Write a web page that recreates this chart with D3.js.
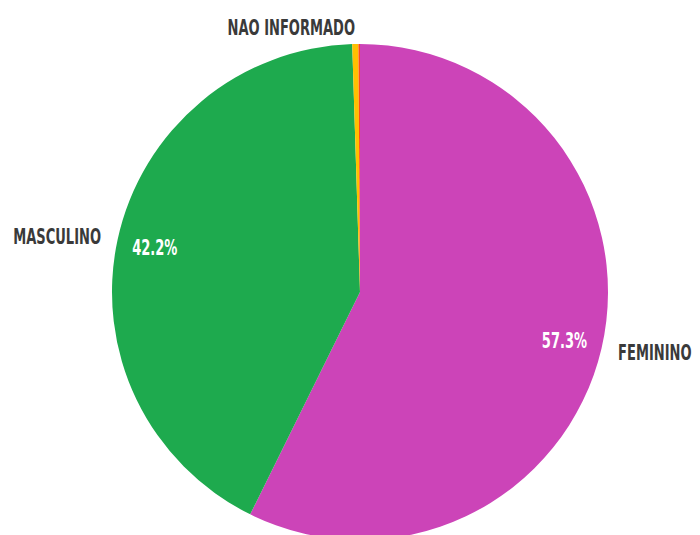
<!DOCTYPE html>
<html>
<head>
<meta charset="utf-8">
<script src="https://cdn.jsdelivr.net/npm/d3@7"></script>
<style>
  body { margin: 0; background: #fff; }
  .lbl { font-family: "DejaVu Sans Condensed", "Liberation Sans Narrow", sans-serif; font-weight: bold; }
</style>
</head>
<body>
<div id="chart"></div>
<script>
// Data
var categories = ["FEMININO", "MASCULINO", "NAO INFORMADO", ""];
var values = [57.3, 42.2, 0.4, 0.1];
var colors = ["#cc44b8", "#1eaa4e", "#ffc000", "#ff4a1c"];
var showPct = [true, true, false, false];

var width = 700, height = 535;
var cx = 360, cy = 292, radius = 248;
var squeeze = 0.66; // condensed look

var svg = d3.select("#chart").append("svg")
    .attr("width", width)
    .attr("height", height);

var g = svg.append("g")
    .attr("transform", "translate(" + cx + "," + cy + ")");

var pie = d3.pie().sort(null).value(function (d) { return d; });
var arcs = pie(values);

var arc = d3.arc().innerRadius(0).outerRadius(radius);
var pctArc = d3.arc().innerRadius(210).outerRadius(210);
var outArc = d3.arc().innerRadius(265).outerRadius(265);

// Slices
g.selectAll("path.slice")
    .data(arcs)
    .enter().append("path")
    .attr("class", "slice")
    .attr("d", arc)
    .attr("fill", function (d, i) { return colors[i]; });

// Percent labels inside
g.selectAll("text.pct")
    .data(arcs.filter(function (d, i) { return showPct[i]; }))
    .enter().append("text")
    .attr("class", "lbl pct")
    .attr("transform", function (d) {
        var c = pctArc.centroid(d);
        return "translate(" + c[0] + "," + (c[1] + 8) + ") scale(" + squeeze + ",1)";
    })
    .attr("text-anchor", "middle")
    .attr("fill", "#fff")
    .style("font-size", "22px")
    .text(function (d) { return d.value.toFixed(1) + "%"; });

// Category labels outside
g.selectAll("text.cat")
    .data(arcs.filter(function (d, i) { return categories[i] !== ""; }))
    .enter().append("text")
    .attr("class", "lbl cat")
    .attr("transform", function (d) {
        var c = outArc.centroid(d);
        return "translate(" + c[0] + "," + (c[1] + 8) + ") scale(" + squeeze + ",1)";
    })
    .attr("text-anchor", function (d) {
        var c = outArc.centroid(d);
        return c[0] < 0 ? "end" : "start";
    })
    .attr("fill", "#3a3a3a")
    .style("font-size", "22px")
    .text(function (d) { return categories[d.index]; });
</script>
</body>
</html>
